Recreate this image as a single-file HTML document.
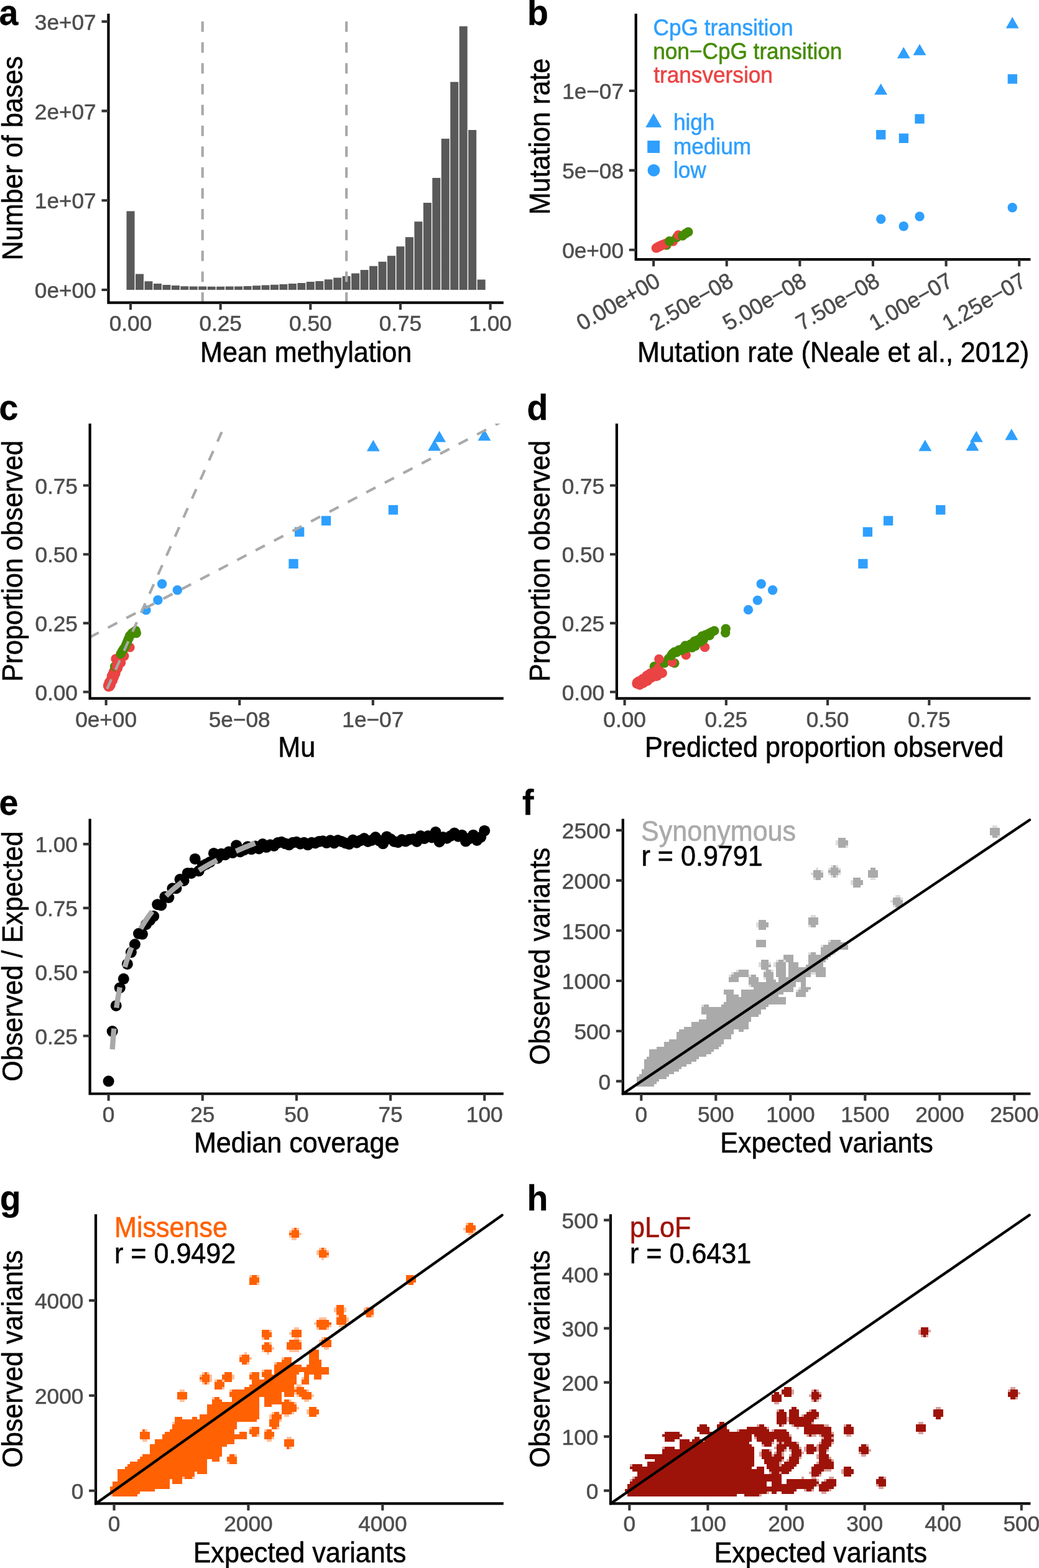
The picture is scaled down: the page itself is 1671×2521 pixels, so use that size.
<!DOCTYPE html>
<html lang="en"><head><meta charset="utf-8"><title>Figure: mutation rate and constraint model panels a-h</title>
<style>html,body{margin:0;padding:0;background:#fff}svg{display:block}text{font-family:'Liberation Sans', sans-serif}</style></head>
<body>
<svg width="1671" height="2521" viewBox="0 0 1671 2521">
<rect width="1671" height="2521" fill="#fff"/>
<g id="panel-a">
<text transform="translate(-1.5 39.6) scale(1 1.04)" font-size="55.5" font-weight="bold" fill="#000" stroke="#000" stroke-width="0.3">a</text>
<path d="M203.49 466h13.02V339.4h-13.02zM217.96 466h13.02V440.4h-13.02zM232.42 466h13.02V452.2h-13.02zM246.89 466h13.02V455.9h-13.02zM261.35 466h13.02V458h-13.02zM275.82 466h13.02V459.1h-13.02zM290.28 466h13.02V460.2h-13.02zM304.75 466h13.02V460.5h-13.02zM319.21 466h13.02V460.6h-13.02zM333.68 466h13.02V460.7h-13.02zM348.14 466h13.02V460.7h-13.02zM362.61 466h13.02V460.6h-13.02zM377.07 466h13.02V460.5h-13.02zM391.54 466h13.02V459.9h-13.02zM406 466h13.02V459.3h-13.02zM420.47 466h13.02V458.6h-13.02zM434.93 466h13.02V457.8h-13.02zM449.4 466h13.02V457h-13.02zM463.86 466h13.02V455.9h-13.02zM478.33 466h13.02V455.1h-13.02zM492.79 466h13.02V453h-13.02zM507.26 466h13.02V451.9h-13.02zM521.72 466h13.02V449.2h-13.02zM536.19 466h13.02V446.5h-13.02zM550.65 466h13.02V444.1h-13.02zM565.12 466h13.02V439.6h-13.02zM579.58 466h13.02V433.9h-13.02zM594.05 466h13.02V427.8h-13.02zM608.51 466h13.02V420.8h-13.02zM622.98 466h13.02V411.2h-13.02zM637.44 466h13.02V396.2h-13.02zM651.91 466h13.02V381.2h-13.02zM666.37 466h13.02V356.3h-13.02zM680.84 466h13.02V326h-13.02zM695.3 466h13.02V286.1h-13.02zM709.77 466h13.02V223.1h-13.02zM724.23 466h13.02V131.8h-13.02zM738.7 466h13.02V42.3h-13.02zM753.16 466h13.02V208.9h-13.02zM767.63 466h13.02V449.5h-13.02z" fill="#595959"/>
<path d="M325.72 486.7V22" stroke="#A9A9A9" stroke-width="4.2" stroke-dasharray="16.75 16.75" fill="none"/>
<path d="M557.16 486.7V22" stroke="#A9A9A9" stroke-width="4.2" stroke-dasharray="16.75 16.75" fill="none"/>
<path d="M174.4 22 V486.7 H809.8" fill="none" stroke="#000" stroke-width="4.2" stroke-linejoin="miter"/>
<path d="M174.4 466h-10.9M174.4 322.2h-10.9M174.4 178.4h-10.9M174.4 34.6h-10.9" stroke="#333333" stroke-width="4.1" fill="none"/>
<text transform="translate(154.7 479.2) scale(1 1.02)" font-size="35.2" text-anchor="end" fill="#4D4D4D" stroke="#4D4D4D" stroke-width="0.55">0e+00</text>
<text transform="translate(154.7 335.4) scale(1 1.02)" font-size="35.2" text-anchor="end" fill="#4D4D4D" stroke="#4D4D4D" stroke-width="0.55">1e+07</text>
<text transform="translate(154.7 191.6) scale(1 1.02)" font-size="35.2" text-anchor="end" fill="#4D4D4D" stroke="#4D4D4D" stroke-width="0.55">2e+07</text>
<text transform="translate(154.7 47.8) scale(1 1.02)" font-size="35.2" text-anchor="end" fill="#4D4D4D" stroke="#4D4D4D" stroke-width="0.55">3e+07</text>
<path d="M210 486.7v11.2M354.65 486.7v11.2M499.3 486.7v11.2M643.95 486.7v11.2M788.6 486.7v11.2" stroke="#333333" stroke-width="4.1" fill="none"/>
<text transform="translate(210 532.3) scale(1 1.02)" font-size="35.2" text-anchor="middle" fill="#4D4D4D" stroke="#4D4D4D" stroke-width="0.55">0.00</text>
<text transform="translate(354.65 532.3) scale(1 1.02)" font-size="35.2" text-anchor="middle" fill="#4D4D4D" stroke="#4D4D4D" stroke-width="0.55">0.25</text>
<text transform="translate(499.3 532.3) scale(1 1.02)" font-size="35.2" text-anchor="middle" fill="#4D4D4D" stroke="#4D4D4D" stroke-width="0.55">0.50</text>
<text transform="translate(643.95 532.3) scale(1 1.02)" font-size="35.2" text-anchor="middle" fill="#4D4D4D" stroke="#4D4D4D" stroke-width="0.55">0.75</text>
<text transform="translate(788.6 532.3) scale(1 1.02)" font-size="35.2" text-anchor="middle" fill="#4D4D4D" stroke="#4D4D4D" stroke-width="0.55">1.00</text>
<text transform="translate(492.1 581.5) scale(1 1.06)" font-size="43.1" text-anchor="middle" fill="#000" stroke="#000" stroke-width="0.55">Mean methylation</text>
<text transform="translate(36.2 254.35) rotate(-90) scale(1 1.06)" font-size="43.1" text-anchor="middle" fill="#000" stroke="#000" stroke-width="0.55">Number of bases</text>
</g>
<g id="panel-b">
<text transform="translate(847.9 39.6) scale(1 1.04)" font-size="55.5" font-weight="bold" fill="#000" stroke="#000" stroke-width="0.3">b</text>
<circle cx="1055.3" cy="398.9" r="7.7" fill="#EA4444"/>
<circle cx="1056.6" cy="398.3" r="7.7" fill="#EA4444"/>
<circle cx="1057.5" cy="397.7" r="7.7" fill="#EA4444"/>
<circle cx="1058.6" cy="397" r="7.7" fill="#EA4444"/>
<circle cx="1059.5" cy="396.7" r="7.7" fill="#EA4444"/>
<circle cx="1060.6" cy="396" r="7.7" fill="#EA4444"/>
<circle cx="1061.5" cy="395.6" r="7.7" fill="#EA4444"/>
<circle cx="1062.6" cy="395" r="7.7" fill="#EA4444"/>
<circle cx="1063.5" cy="394.6" r="7.7" fill="#EA4444"/>
<circle cx="1064.6" cy="394.1" r="7.7" fill="#EA4444"/>
<circle cx="1065.5" cy="393.8" r="7.7" fill="#EA4444"/>
<circle cx="1072" cy="394" r="7.7" fill="#458B00"/>
<circle cx="1067" cy="393.2" r="7.7" fill="#EA4444"/>
<circle cx="1068.6" cy="392.5" r="7.7" fill="#EA4444"/>
<circle cx="1071" cy="391.5" r="7.7" fill="#EA4444"/>
<circle cx="1082.5" cy="388" r="7.7" fill="#EA4444"/>
<circle cx="1076.7" cy="387.7" r="7.7" fill="#458B00"/>
<circle cx="1088.5" cy="381.5" r="7.7" fill="#458B00"/>
<circle cx="1091" cy="378" r="7.7" fill="#EA4444"/>
<circle cx="1097.7" cy="379" r="7.7" fill="#458B00"/>
<circle cx="1102.8" cy="375.4" r="7.7" fill="#458B00"/>
<circle cx="1106.8" cy="372.9" r="7.7" fill="#458B00"/>
<g fill="#2E9FFE">
<circle cx="1416.8" cy="352.2" r="7.7"/>
<circle cx="1453.3" cy="363.8" r="7.7"/>
<circle cx="1479" cy="348" r="7.7"/>
<circle cx="1628.2" cy="333.8" r="7.7"/>
<rect x="1409.05" y="208.95" width="15.3" height="15.3"/>
<rect x="1445.75" y="214.65" width="15.3" height="15.3"/>
<rect x="1471.35" y="183.45" width="15.3" height="15.3"/>
<rect x="1620.65" y="119.35" width="15.3" height="15.3"/>
<path d="M1416.6 134.23L1427.05 152.33H1406.15Z"/>
<path d="M1453.3 75.53L1463.75 93.63H1442.85Z"/>
<path d="M1479 70.73L1489.45 88.83H1468.55Z"/>
<path d="M1628.2 27.33L1638.65 45.43H1617.75Z"/>
<path d="M1051.2 182.25L1064.15 204.68H1038.25Z"/>
<rect x="1041.2" y="226.1" width="19.8" height="19.8"/>
<circle cx="1051.4" cy="273.8" r="9.9"/>
</g>
<text transform="translate(1050.6 56.8) scale(1 1.06)" font-size="35.2" fill="#2E9FFE" stroke="#2E9FFE" stroke-width="0.55">CpG transition</text>
<text transform="translate(1050.2 94.8) scale(1 1.06)" font-size="35.2" fill="#458B00" stroke="#458B00" stroke-width="0.55">non−CpG transition</text>
<text transform="translate(1051.2 133.1) scale(1 1.06)" font-size="35.2" fill="#EA4444" stroke="#EA4444" stroke-width="0.55">transversion</text>
<text transform="translate(1082.9 209) scale(1 1.06)" font-size="35.2" fill="#2E9FFE" stroke="#2E9FFE" stroke-width="0.55">high</text>
<text transform="translate(1082.9 247.8) scale(1 1.06)" font-size="35.2" fill="#2E9FFE" stroke="#2E9FFE" stroke-width="0.55">medium</text>
<text transform="translate(1082.9 286.1) scale(1 1.06)" font-size="35.2" fill="#2E9FFE" stroke="#2E9FFE" stroke-width="0.55">low</text>
<path d="M1022.7 22 V417.1 H1657.4" fill="none" stroke="#000" stroke-width="4.2" stroke-linejoin="miter"/>
<path d="M1022.7 401.8h-10.9M1022.7 273.9h-10.9M1022.7 146h-10.9" stroke="#333333" stroke-width="4.1" fill="none"/>
<text transform="translate(1003 415) scale(1 1.02)" font-size="35.2" text-anchor="end" fill="#4D4D4D" stroke="#4D4D4D" stroke-width="0.55">0e+00</text>
<text transform="translate(1003 287.1) scale(1 1.02)" font-size="35.2" text-anchor="end" fill="#4D4D4D" stroke="#4D4D4D" stroke-width="0.55">5e−08</text>
<text transform="translate(1003 159.2) scale(1 1.02)" font-size="35.2" text-anchor="end" fill="#4D4D4D" stroke="#4D4D4D" stroke-width="0.55">1e−07</text>
<path d="M1051.1 417.1v11.2M1168.72 417.1v11.2M1286.34 417.1v11.2M1403.96 417.1v11.2M1521.58 417.1v11.2M1639.2 417.1v11.2" stroke="#333333" stroke-width="4.1" fill="none"/>
<text transform="translate(1064.3 458.7) rotate(-30) scale(1 1.02)" font-size="35.2" text-anchor="end" fill="#4D4D4D" stroke="#4D4D4D" stroke-width="0.55">0.00e+00</text>
<text transform="translate(1181.92 458.7) rotate(-30) scale(1 1.02)" font-size="35.2" text-anchor="end" fill="#4D4D4D" stroke="#4D4D4D" stroke-width="0.55">2.50e−08</text>
<text transform="translate(1299.54 458.7) rotate(-30) scale(1 1.02)" font-size="35.2" text-anchor="end" fill="#4D4D4D" stroke="#4D4D4D" stroke-width="0.55">5.00e−08</text>
<text transform="translate(1417.16 458.7) rotate(-30) scale(1 1.02)" font-size="35.2" text-anchor="end" fill="#4D4D4D" stroke="#4D4D4D" stroke-width="0.55">7.50e−08</text>
<text transform="translate(1534.78 458.7) rotate(-30) scale(1 1.02)" font-size="35.2" text-anchor="end" fill="#4D4D4D" stroke="#4D4D4D" stroke-width="0.55">1.00e−07</text>
<text transform="translate(1652.4 458.7) rotate(-30) scale(1 1.02)" font-size="35.2" text-anchor="end" fill="#4D4D4D" stroke="#4D4D4D" stroke-width="0.55">1.25e−07</text>
<text transform="translate(1340.05 581.5) scale(1 1.06)" font-size="43.1" text-anchor="middle" fill="#000" stroke="#000" stroke-width="0.55">Mutation rate (Neale et al., 2012)</text>
<text transform="translate(884.2 219.55) rotate(-90) scale(1 1.06)" font-size="43.1" text-anchor="middle" fill="#000" stroke="#000" stroke-width="0.55">Mutation rate</text>
</g>
<g id="panel-c">
<text transform="translate(-1.5 674.9) scale(1 1.04)" font-size="55.5" font-weight="bold" fill="#000" stroke="#000" stroke-width="0.3">c</text>
<circle cx="174.31" cy="1104.21" r="7.7" fill="#EA4444"/>
<circle cx="176.5" cy="1103.69" r="7.7" fill="#EA4444"/>
<circle cx="174.86" cy="1103.56" r="7.7" fill="#EA4444"/>
<circle cx="175.81" cy="1103.04" r="7.7" fill="#EA4444"/>
<circle cx="173.65" cy="1102.91" r="7.7" fill="#EA4444"/>
<circle cx="173.93" cy="1101.96" r="7.7" fill="#EA4444"/>
<circle cx="173.7" cy="1101.37" r="7.7" fill="#EA4444"/>
<circle cx="178.34" cy="1101.09" r="7.7" fill="#EA4444"/>
<circle cx="177.19" cy="1099.65" r="7.7" fill="#EA4444"/>
<circle cx="176.82" cy="1099.6" r="7.7" fill="#EA4444"/>
<circle cx="175.3" cy="1097.61" r="7.7" fill="#EA4444"/>
<circle cx="177.21" cy="1097.04" r="7.7" fill="#EA4444"/>
<circle cx="176.03" cy="1096.77" r="7.7" fill="#EA4444"/>
<circle cx="177.73" cy="1096.72" r="7.7" fill="#EA4444"/>
<circle cx="175.63" cy="1096.57" r="7.7" fill="#EA4444"/>
<circle cx="178.38" cy="1095.52" r="7.7" fill="#EA4444"/>
<circle cx="178.61" cy="1094.83" r="7.7" fill="#EA4444"/>
<circle cx="181.44" cy="1094.07" r="7.7" fill="#EA4444"/>
<circle cx="178.75" cy="1093.19" r="7.7" fill="#EA4444"/>
<circle cx="181.08" cy="1092.63" r="7.7" fill="#EA4444"/>
<circle cx="179.13" cy="1090.74" r="7.7" fill="#EA4444"/>
<circle cx="179.35" cy="1089.58" r="7.7" fill="#EA4444"/>
<circle cx="181.78" cy="1089.53" r="7.7" fill="#EA4444"/>
<circle cx="183.32" cy="1088.91" r="7.7" fill="#EA4444"/>
<circle cx="182.48" cy="1088.68" r="7.7" fill="#EA4444"/>
<circle cx="179.5" cy="1086.61" r="7.7" fill="#EA4444"/>
<circle cx="183.83" cy="1086.36" r="7.7" fill="#EA4444"/>
<circle cx="184.5" cy="1085.34" r="7.7" fill="#EA4444"/>
<circle cx="180.9" cy="1085.02" r="7.7" fill="#EA4444"/>
<circle cx="184.35" cy="1083.32" r="7.7" fill="#EA4444"/>
<circle cx="185.91" cy="1082.69" r="7.7" fill="#EA4444"/>
<circle cx="181.71" cy="1082.59" r="7.7" fill="#EA4444"/>
<circle cx="182.6" cy="1080.62" r="7.7" fill="#EA4444"/>
<circle cx="182.91" cy="1079.3" r="7.7" fill="#EA4444"/>
<circle cx="186.33" cy="1078.66" r="7.7" fill="#EA4444"/>
<circle cx="185.68" cy="1078.37" r="7.7" fill="#EA4444"/>
<circle cx="184.46" cy="1078.11" r="7.7" fill="#EA4444"/>
<circle cx="184.59" cy="1076.98" r="7.7" fill="#EA4444"/>
<circle cx="184.93" cy="1075.54" r="7.7" fill="#EA4444"/>
<circle cx="189.45" cy="1074.54" r="7.7" fill="#EA4444"/>
<circle cx="185.75" cy="1074.26" r="7.7" fill="#EA4444"/>
<circle cx="186.95" cy="1073.78" r="7.7" fill="#EA4444"/>
<circle cx="186.95" cy="1071.7" r="7.7" fill="#EA4444"/>
<circle cx="184.56" cy="1071.64" r="7.7" fill="#458B00"/>
<circle cx="190.16" cy="1071.31" r="7.7" fill="#EA4444"/>
<circle cx="187.29" cy="1071.15" r="7.7" fill="#EA4444"/>
<circle cx="188.19" cy="1068.5" r="7.7" fill="#EA4444"/>
<circle cx="186" cy="1059.29" r="7.7" fill="#EA4444"/>
<circle cx="194.61" cy="1065.61" r="7.7" fill="#EA4444"/>
<circle cx="199.78" cy="1054.7" r="7.7" fill="#EA4444"/>
<circle cx="208.96" cy="1040.92" r="7.7" fill="#EA4444"/>
<circle cx="194.04" cy="1051.26" r="7.7" fill="#458B00"/>
<circle cx="196.33" cy="1047.24" r="7.7" fill="#458B00"/>
<circle cx="198.63" cy="1043.79" r="7.7" fill="#458B00"/>
<circle cx="200.92" cy="1040.35" r="7.7" fill="#458B00"/>
<circle cx="202.65" cy="1036.33" r="7.7" fill="#458B00"/>
<circle cx="204.37" cy="1032.89" r="7.7" fill="#458B00"/>
<circle cx="205.52" cy="1029.44" r="7.7" fill="#458B00"/>
<circle cx="207.24" cy="1026" r="7.7" fill="#458B00"/>
<circle cx="208.39" cy="1022.55" r="7.7" fill="#458B00"/>
<circle cx="210.68" cy="1020.26" r="7.7" fill="#458B00"/>
<circle cx="212.41" cy="1017.96" r="7.7" fill="#458B00"/>
<circle cx="215.28" cy="1016.24" r="7.7" fill="#458B00"/>
<circle cx="219.29" cy="1017.96" r="7.7" fill="#458B00"/>
<circle cx="218.15" cy="1013.94" r="7.7" fill="#458B00"/>
<g fill="#2E9FFE">
<circle cx="260.6" cy="938.8" r="7.7"/>
<circle cx="253.9" cy="964.8" r="7.7"/>
<circle cx="285.3" cy="948.8" r="7.7"/>
<circle cx="234.9" cy="980.9" r="7.7"/>
<rect x="464.35" y="898.75" width="15.3" height="15.3"/>
<rect x="473.95" y="847.55" width="15.3" height="15.3"/>
<rect x="516.85" y="829.55" width="15.3" height="15.3"/>
<rect x="624.75" y="812.15" width="15.3" height="15.3"/>
<path d="M600.3 707.33L610.75 725.43H589.85Z"/>
<path d="M706.6 692.63L717.05 710.73H696.15Z"/>
<path d="M698.6 706.73L709.05 724.83H688.15Z"/>
<path d="M779 690.33L789.45 708.43H768.55Z"/>
</g>
<clipPath id="clipc"><rect x="144.6" y="681.1" width="665.2" height="441.8"/></clipPath>
<g clip-path="url(#clipc)" stroke="#A9A9A9" stroke-width="4.2" stroke-dasharray="16.75 16.75" fill="none">
<path d="M143.98 1024.78L829.8 665.76"/>
<path d="M172.2 1107.5L372.2 659.7"/>
</g>
<path d="M144.6 681.1 V1122.9 H809.8" fill="none" stroke="#000" stroke-width="4.2" stroke-linejoin="miter"/>
<path d="M144.6 1112.5h-10.9M144.6 1001.85h-10.9M144.6 891.2h-10.9M144.6 780.55h-10.9" stroke="#333333" stroke-width="4.1" fill="none"/>
<text transform="translate(124.9 1125.7) scale(1 1.02)" font-size="35.2" text-anchor="end" fill="#4D4D4D" stroke="#4D4D4D" stroke-width="0.55">0.00</text>
<text transform="translate(124.9 1015.05) scale(1 1.02)" font-size="35.2" text-anchor="end" fill="#4D4D4D" stroke="#4D4D4D" stroke-width="0.55">0.25</text>
<text transform="translate(124.9 904.4) scale(1 1.02)" font-size="35.2" text-anchor="end" fill="#4D4D4D" stroke="#4D4D4D" stroke-width="0.55">0.50</text>
<text transform="translate(124.9 793.75) scale(1 1.02)" font-size="35.2" text-anchor="end" fill="#4D4D4D" stroke="#4D4D4D" stroke-width="0.55">0.75</text>
<path d="M170.6 1122.9v11.2M385.2 1122.9v11.2M599.8 1122.9v11.2" stroke="#333333" stroke-width="4.1" fill="none"/>
<text transform="translate(170.6 1168.5) scale(1 1.02)" font-size="35.2" text-anchor="middle" fill="#4D4D4D" stroke="#4D4D4D" stroke-width="0.55">0e+00</text>
<text transform="translate(385.2 1168.5) scale(1 1.02)" font-size="35.2" text-anchor="middle" fill="#4D4D4D" stroke="#4D4D4D" stroke-width="0.55">5e−08</text>
<text transform="translate(599.8 1168.5) scale(1 1.02)" font-size="35.2" text-anchor="middle" fill="#4D4D4D" stroke="#4D4D4D" stroke-width="0.55">1e−07</text>
<text transform="translate(477.2 1217.4) scale(1 1.06)" font-size="43.1" text-anchor="middle" fill="#000" stroke="#000" stroke-width="0.55">Mu</text>
<text transform="translate(36.2 902) rotate(-90) scale(1 1.06)" font-size="43.1" text-anchor="middle" fill="#000" stroke="#000" stroke-width="0.55">Proportion observed</text>
</g>
<g id="panel-d">
<text transform="translate(847.6 674.9) scale(1 1.04)" font-size="55.5" font-weight="bold" fill="#000" stroke="#000" stroke-width="0.3">d</text>
<circle cx="1052.28" cy="1071.56" r="7.7" fill="#458B00"/>
<circle cx="1024.26" cy="1099.63" r="7.7" fill="#EA4444"/>
<circle cx="1024.23" cy="1098.78" r="7.7" fill="#EA4444"/>
<circle cx="1024.48" cy="1098.22" r="7.7" fill="#EA4444"/>
<circle cx="1024.46" cy="1097.12" r="7.7" fill="#EA4444"/>
<circle cx="1025.58" cy="1097.93" r="7.7" fill="#EA4444"/>
<circle cx="1025.49" cy="1096.59" r="7.7" fill="#EA4444"/>
<circle cx="1028.92" cy="1101.3" r="7.7" fill="#EA4444"/>
<circle cx="1028.02" cy="1098.52" r="7.7" fill="#EA4444"/>
<circle cx="1026.96" cy="1095.44" r="7.7" fill="#EA4444"/>
<circle cx="1028.5" cy="1096.8" r="7.7" fill="#EA4444"/>
<circle cx="1028.19" cy="1094.97" r="7.7" fill="#EA4444"/>
<circle cx="1031.48" cy="1099.3" r="7.7" fill="#EA4444"/>
<circle cx="1030.82" cy="1096.83" r="7.7" fill="#EA4444"/>
<circle cx="1032.2" cy="1097.83" r="7.7" fill="#EA4444"/>
<circle cx="1031.74" cy="1095.66" r="7.7" fill="#EA4444"/>
<circle cx="1032.22" cy="1095.11" r="7.7" fill="#EA4444"/>
<circle cx="1034.88" cy="1098.28" r="7.7" fill="#EA4444"/>
<circle cx="1034.76" cy="1096.65" r="7.7" fill="#EA4444"/>
<circle cx="1035.15" cy="1095.9" r="7.7" fill="#EA4444"/>
<circle cx="1033.37" cy="1091.39" r="7.7" fill="#EA4444"/>
<circle cx="1034.55" cy="1091.97" r="7.7" fill="#EA4444"/>
<circle cx="1037.52" cy="1095.61" r="7.7" fill="#EA4444"/>
<circle cx="1035.68" cy="1090.96" r="7.7" fill="#EA4444"/>
<circle cx="1038.91" cy="1095.04" r="7.7" fill="#EA4444"/>
<circle cx="1037.65" cy="1091.39" r="7.7" fill="#EA4444"/>
<circle cx="1040.28" cy="1094.4" r="7.7" fill="#EA4444"/>
<circle cx="1041.46" cy="1094.92" r="7.7" fill="#EA4444"/>
<circle cx="1038.55" cy="1088.38" r="7.7" fill="#EA4444"/>
<circle cx="1041.95" cy="1092.71" r="7.7" fill="#EA4444"/>
<circle cx="1042.6" cy="1092.29" r="7.7" fill="#EA4444"/>
<circle cx="1040.01" cy="1086.29" r="7.7" fill="#EA4444"/>
<circle cx="1041.13" cy="1086.66" r="7.7" fill="#EA4444"/>
<circle cx="1044.33" cy="1090.6" r="7.7" fill="#EA4444"/>
<circle cx="1042.06" cy="1085.12" r="7.7" fill="#EA4444"/>
<circle cx="1044.59" cy="1087.91" r="7.7" fill="#EA4444"/>
<circle cx="1044.65" cy="1086.42" r="7.7" fill="#EA4444"/>
<circle cx="1047.48" cy="1089.69" r="7.7" fill="#EA4444"/>
<circle cx="1044.8" cy="1083.5" r="7.7" fill="#EA4444"/>
<circle cx="1046.63" cy="1085.04" r="7.7" fill="#EA4444"/>
<circle cx="1046.03" cy="1082.39" r="7.7" fill="#EA4444"/>
<circle cx="1047.05" cy="1082.53" r="7.7" fill="#EA4444"/>
<circle cx="1050.56" cy="1086.96" r="7.7" fill="#EA4444"/>
<circle cx="1050.98" cy="1086.04" r="7.7" fill="#EA4444"/>
<circle cx="1052.64" cy="1087.26" r="7.7" fill="#EA4444"/>
<circle cx="1053.46" cy="1087.03" r="7.7" fill="#EA4444"/>
<circle cx="1054.58" cy="1087.32" r="7.7" fill="#EA4444"/>
<circle cx="1054.13" cy="1084.9" r="7.7" fill="#EA4444"/>
<circle cx="1053.33" cy="1081.86" r="7.7" fill="#EA4444"/>
<circle cx="1057.1" cy="1086.69" r="7.7" fill="#EA4444"/>
<circle cx="1054.37" cy="1080.32" r="7.7" fill="#EA4444"/>
<circle cx="1056.85" cy="1082.91" r="7.7" fill="#EA4444"/>
<circle cx="1057.73" cy="1082.75" r="7.7" fill="#EA4444"/>
<circle cx="1055.77" cy="1077.7" r="7.7" fill="#EA4444"/>
<circle cx="1058.28" cy="1080.34" r="7.7" fill="#EA4444"/>
<circle cx="1059.9" cy="1081.43" r="7.7" fill="#EA4444"/>
<circle cx="1059.74" cy="1079.46" r="7.7" fill="#EA4444"/>
<circle cx="1059.25" cy="1076.91" r="7.7" fill="#EA4444"/>
<circle cx="1063.56" cy="1082.63" r="7.7" fill="#EA4444"/>
<circle cx="1059.19" cy="1073.4" r="7.7" fill="#EA4444"/>
<circle cx="1065.27" cy="1082.15" r="7.7" fill="#EA4444"/>
<circle cx="1068.55" cy="1066.14" r="7.7" fill="#458B00"/>
<circle cx="1084.81" cy="1066.14" r="7.7" fill="#458B00"/>
<circle cx="1075.05" cy="1059.09" r="7.7" fill="#458B00"/>
<circle cx="1059.87" cy="1059.63" r="7.7" fill="#EA4444"/>
<circle cx="1081.01" cy="1064.51" r="7.7" fill="#EA4444"/>
<circle cx="1103.24" cy="1053.13" r="7.7" fill="#EA4444"/>
<circle cx="1133.6" cy="1040.66" r="7.7" fill="#EA4444"/>
<circle cx="1081.56" cy="1050.96" r="7.7" fill="#458B00"/>
<circle cx="1079.39" cy="1054.21" r="7.7" fill="#458B00"/>
<circle cx="1084.81" cy="1048.25" r="7.7" fill="#458B00"/>
<circle cx="1088.06" cy="1048.79" r="7.7" fill="#458B00"/>
<circle cx="1091.86" cy="1044.99" r="7.7" fill="#458B00"/>
<circle cx="1095.65" cy="1045.54" r="7.7" fill="#458B00"/>
<circle cx="1099.45" cy="1041.74" r="7.7" fill="#458B00"/>
<circle cx="1102.16" cy="1037.95" r="7.7" fill="#458B00"/>
<circle cx="1103.24" cy="1042.28" r="7.7" fill="#458B00"/>
<circle cx="1107.03" cy="1039.03" r="7.7" fill="#458B00"/>
<circle cx="1110.83" cy="1035.78" r="7.7" fill="#458B00"/>
<circle cx="1113" cy="1041.2" r="7.7" fill="#458B00"/>
<circle cx="1118.42" cy="1038.49" r="7.7" fill="#458B00"/>
<circle cx="1116.79" cy="1030.9" r="7.7" fill="#458B00"/>
<circle cx="1120.59" cy="1029.82" r="7.7" fill="#458B00"/>
<circle cx="1123.84" cy="1028.19" r="7.7" fill="#458B00"/>
<circle cx="1127.09" cy="1031.44" r="7.7" fill="#458B00"/>
<circle cx="1129.26" cy="1022.77" r="7.7" fill="#458B00"/>
<circle cx="1131.43" cy="1028.19" r="7.7" fill="#458B00"/>
<circle cx="1134.68" cy="1020.6" r="7.7" fill="#458B00"/>
<circle cx="1140.1" cy="1018.43" r="7.7" fill="#458B00"/>
<circle cx="1141.19" cy="1021.68" r="7.7" fill="#458B00"/>
<circle cx="1144.44" cy="1016.26" r="7.7" fill="#458B00"/>
<circle cx="1148.78" cy="1014.09" r="7.7" fill="#458B00"/>
<circle cx="1166.67" cy="1017.35" r="7.7" fill="#458B00"/>
<circle cx="1167.21" cy="1010.84" r="7.7" fill="#458B00"/>
<g fill="#2E9FFE">
<circle cx="1203.5" cy="980.4" r="7.7"/>
<circle cx="1218.3" cy="965.1" r="7.7"/>
<circle cx="1224.2" cy="938.8" r="7.7"/>
<circle cx="1242.6" cy="948.8" r="7.7"/>
<rect x="1380.25" y="898.75" width="15.3" height="15.3"/>
<rect x="1387.75" y="847.55" width="15.3" height="15.3"/>
<rect x="1420.95" y="829.55" width="15.3" height="15.3"/>
<rect x="1505.05" y="812.15" width="15.3" height="15.3"/>
<path d="M1487.8 707.03L1498.25 725.13H1477.35Z"/>
<path d="M1570.3 692.63L1580.75 710.73H1559.85Z"/>
<path d="M1563.9 706.73L1574.35 724.83H1553.45Z"/>
<path d="M1626.8 689.33L1637.25 707.43H1616.35Z"/>
</g>
<path d="M991.9 681.1 V1122.9 H1657.4" fill="none" stroke="#000" stroke-width="4.2" stroke-linejoin="miter"/>
<path d="M991.9 1112.5h-10.9M991.9 1001.85h-10.9M991.9 891.2h-10.9M991.9 780.55h-10.9" stroke="#333333" stroke-width="4.1" fill="none"/>
<text transform="translate(972.2 1125.7) scale(1 1.02)" font-size="35.2" text-anchor="end" fill="#4D4D4D" stroke="#4D4D4D" stroke-width="0.55">0.00</text>
<text transform="translate(972.2 1015.05) scale(1 1.02)" font-size="35.2" text-anchor="end" fill="#4D4D4D" stroke="#4D4D4D" stroke-width="0.55">0.25</text>
<text transform="translate(972.2 904.4) scale(1 1.02)" font-size="35.2" text-anchor="end" fill="#4D4D4D" stroke="#4D4D4D" stroke-width="0.55">0.50</text>
<text transform="translate(972.2 793.75) scale(1 1.02)" font-size="35.2" text-anchor="end" fill="#4D4D4D" stroke="#4D4D4D" stroke-width="0.55">0.75</text>
<path d="M1004.6 1122.9v11.2M1167.85 1122.9v11.2M1331.1 1122.9v11.2M1494.35 1122.9v11.2" stroke="#333333" stroke-width="4.1" fill="none"/>
<text transform="translate(1004.6 1168.5) scale(1 1.02)" font-size="35.2" text-anchor="middle" fill="#4D4D4D" stroke="#4D4D4D" stroke-width="0.55">0.00</text>
<text transform="translate(1167.85 1168.5) scale(1 1.02)" font-size="35.2" text-anchor="middle" fill="#4D4D4D" stroke="#4D4D4D" stroke-width="0.55">0.25</text>
<text transform="translate(1331.1 1168.5) scale(1 1.02)" font-size="35.2" text-anchor="middle" fill="#4D4D4D" stroke="#4D4D4D" stroke-width="0.55">0.50</text>
<text transform="translate(1494.35 1168.5) scale(1 1.02)" font-size="35.2" text-anchor="middle" fill="#4D4D4D" stroke="#4D4D4D" stroke-width="0.55">0.75</text>
<text transform="translate(1325.65 1217.4) scale(1 1.06)" font-size="43.1" text-anchor="middle" fill="#000" stroke="#000" stroke-width="0.55">Predicted proportion observed</text>
<text transform="translate(884.2 902) rotate(-90) scale(1 1.06)" font-size="43.1" text-anchor="middle" fill="#000" stroke="#000" stroke-width="0.55">Proportion observed</text>
</g>
<g id="panel-e">
<text transform="translate(-1.5 1310.3) scale(1 1.04)" font-size="55.5" font-weight="bold" fill="#000" stroke="#000" stroke-width="0.3">e</text>
<g fill="#000">
<circle cx="174.6" cy="1738.28" r="9"/>
<circle cx="180.65" cy="1658.1" r="9"/>
<circle cx="186.69" cy="1616.98" r="9"/>
<circle cx="192.74" cy="1588.19" r="9"/>
<circle cx="198.78" cy="1573.8" r="9"/>
<circle cx="204.83" cy="1549.95" r="9"/>
<circle cx="210.88" cy="1531.04" r="9"/>
<circle cx="216.92" cy="1518.29" r="9"/>
<circle cx="222.97" cy="1501.02" r="9"/>
<circle cx="229.01" cy="1501.84" r="9"/>
<circle cx="235.06" cy="1486.22" r="9"/>
<circle cx="241.11" cy="1479.64" r="9"/>
<circle cx="247.15" cy="1473.06" r="9"/>
<circle cx="253.2" cy="1454.14" r="9"/>
<circle cx="259.24" cy="1455.38" r="9"/>
<circle cx="265.29" cy="1441.81" r="9"/>
<circle cx="271.34" cy="1443.04" r="9"/>
<circle cx="277.38" cy="1428.24" r="9"/>
<circle cx="283.43" cy="1428.24" r="9"/>
<circle cx="289.47" cy="1413.85" r="9"/>
<circle cx="295.52" cy="1415.9" r="9"/>
<circle cx="301.57" cy="1403.98" r="9"/>
<circle cx="307.61" cy="1403.98" r="9"/>
<circle cx="313.66" cy="1380.95" r="9"/>
<circle cx="319.7" cy="1400.28" r="9"/>
<circle cx="325.75" cy="1392.05" r="9"/>
<circle cx="331.8" cy="1389.17" r="9"/>
<circle cx="337.84" cy="1385.88" r="9"/>
<circle cx="343.89" cy="1371.9" r="9"/>
<circle cx="349.93" cy="1379.72" r="9"/>
<circle cx="355.98" cy="1372.73" r="9"/>
<circle cx="362.03" cy="1374.37" r="9"/>
<circle cx="368.07" cy="1369.44" r="9"/>
<circle cx="374.12" cy="1371.08" r="9"/>
<circle cx="380.16" cy="1359.16" r="9"/>
<circle cx="386.21" cy="1369.44" r="9"/>
<circle cx="392.26" cy="1366.56" r="9"/>
<circle cx="398.3" cy="1361.21" r="9"/>
<circle cx="404.35" cy="1365.32" r="9"/>
<circle cx="410.39" cy="1360.39" r="9"/>
<circle cx="416.44" cy="1364.5" r="9"/>
<circle cx="422.49" cy="1357.1" r="9"/>
<circle cx="428.53" cy="1362.03" r="9"/>
<circle cx="434.58" cy="1358.33" r="9"/>
<circle cx="440.62" cy="1359.98" r="9"/>
<circle cx="446.67" cy="1355.04" r="9"/>
<circle cx="452.72" cy="1353.81" r="9"/>
<circle cx="458.76" cy="1356.28" r="9"/>
<circle cx="464.81" cy="1358.33" r="9"/>
<circle cx="470.85" cy="1354.63" r="9"/>
<circle cx="476.9" cy="1353.81" r="9"/>
<circle cx="482.95" cy="1356.69" r="9"/>
<circle cx="488.99" cy="1354.63" r="9"/>
<circle cx="495.04" cy="1358.33" r="9"/>
<circle cx="501.08" cy="1354.63" r="9"/>
<circle cx="507.13" cy="1355.46" r="9"/>
<circle cx="513.18" cy="1352.99" r="9"/>
<circle cx="519.22" cy="1352.17" r="9"/>
<circle cx="525.27" cy="1355.04" r="9"/>
<circle cx="531.31" cy="1351.34" r="9"/>
<circle cx="537.36" cy="1355.46" r="9"/>
<circle cx="543.41" cy="1350.93" r="9"/>
<circle cx="549.45" cy="1352.99" r="9"/>
<circle cx="555.5" cy="1355.46" r="9"/>
<circle cx="561.54" cy="1357.1" r="9"/>
<circle cx="567.59" cy="1350.52" r="9"/>
<circle cx="573.64" cy="1354.63" r="9"/>
<circle cx="579.68" cy="1351.34" r="9"/>
<circle cx="585.73" cy="1348.05" r="9"/>
<circle cx="591.77" cy="1352.99" r="9"/>
<circle cx="597.82" cy="1350.93" r="9"/>
<circle cx="603.87" cy="1346" r="9"/>
<circle cx="609.91" cy="1351.75" r="9"/>
<circle cx="615.96" cy="1356.28" r="9"/>
<circle cx="622" cy="1345.18" r="9"/>
<circle cx="628.05" cy="1348.88" r="9"/>
<circle cx="634.1" cy="1352.99" r="9"/>
<circle cx="640.14" cy="1354.22" r="9"/>
<circle cx="646.19" cy="1350.11" r="9"/>
<circle cx="652.23" cy="1352.58" r="9"/>
<circle cx="658.28" cy="1349.7" r="9"/>
<circle cx="664.33" cy="1348.88" r="9"/>
<circle cx="670.37" cy="1352.99" r="9"/>
<circle cx="676.42" cy="1343.94" r="9"/>
<circle cx="682.46" cy="1348.05" r="9"/>
<circle cx="688.51" cy="1343.94" r="9"/>
<circle cx="694.56" cy="1346.41" r="9"/>
<circle cx="700.6" cy="1337.77" r="9"/>
<circle cx="706.65" cy="1353.4" r="9"/>
<circle cx="712.69" cy="1346" r="9"/>
<circle cx="718.74" cy="1347.64" r="9"/>
<circle cx="724.79" cy="1343.94" r="9"/>
<circle cx="730.83" cy="1339.42" r="9"/>
<circle cx="736.88" cy="1344.76" r="9"/>
<circle cx="742.92" cy="1342.71" r="9"/>
<circle cx="748.97" cy="1352.58" r="9"/>
<circle cx="755.02" cy="1348.05" r="9"/>
<circle cx="761.06" cy="1342.71" r="9"/>
<circle cx="767.11" cy="1350.93" r="9"/>
<circle cx="773.15" cy="1346" r="9"/>
<circle cx="779.2" cy="1335.72" r="9"/>
</g>
<path d="M180.65 1687.09L181.8 1671.33L182.95 1657.92L184.1 1646.24L185.25 1635.89L186.4 1626.61L187.55 1618.2L188.7 1610.5L189.85 1603.4L191 1596.82L192.15 1590.69L193.3 1584.95L194.45 1579.55L195.6 1574.45L196.75 1569.63L197.9 1565.05L199.05 1560.69L200.21 1556.53L201.36 1552.55L202.51 1548.75L203.66 1545.09L204.81 1541.58L205.96 1538.2L207.11 1534.94L208.26 1531.79L209.41 1528.75L210.56 1525.81L211.71 1522.96L212.86 1520.2L214.01 1517.52L215.16 1514.92L216.31 1512.39L217.46 1509.93L218.61 1507.53L219.76 1505.2L220.92 1502.92L222.07 1500.7L223.22 1498.54L224.37 1496.42L225.52 1494.35L226.67 1492.33L227.82 1490.35L228.97 1488.42L230.12 1486.53L231.27 1484.67L232.42 1482.85L233.57 1481.07L234.72 1479.32L235.87 1477.61L237.02 1475.92L238.17 1474.27L239.32 1472.65L240.47 1471.06L241.63 1469.49L242.78 1467.95L243.93 1466.44L245.08 1464.95L246.23 1463.48L247.38 1462.04L248.53 1460.62L249.68 1459.23L250.83 1457.85L251.98 1456.5L253.13 1455.16L254.28 1453.85L255.43 1452.55L256.58 1451.27L257.73 1450.01L258.88 1448.77L260.03 1447.54L261.18 1446.33L262.34 1445.14L263.49 1443.96L264.64 1442.79L265.79 1441.65L266.94 1440.51L268.09 1439.39L269.24 1438.29L270.39 1437.19L271.54 1436.11L272.69 1435.05L273.84 1433.99L274.99 1432.95L276.14 1431.92L277.29 1430.9L278.44 1429.89L279.59 1428.89L280.74 1427.91L281.89 1426.93L283.05 1425.97L284.2 1425.01L285.35 1424.07L286.5 1423.13L287.65 1422.21L288.8 1421.29L289.95 1420.39L291.1 1419.49L292.25 1418.6L293.4 1417.72L294.55 1416.85L295.7 1415.98L296.85 1415.13L298 1414.28L299.15 1413.44L300.3 1412.61L301.45 1411.79L302.6 1410.97L303.76 1410.16L304.91 1409.36L306.06 1408.56L307.21 1407.77L308.36 1406.99L309.51 1406.22L310.66 1405.45L311.81 1404.69L312.96 1403.93L314.11 1403.18L315.26 1402.44L316.41 1401.7L317.56 1400.97L318.71 1400.25L319.86 1399.53L321.01 1398.81L322.16 1398.11L323.31 1397.4L324.47 1396.71L325.62 1396.02L326.77 1395.33L327.92 1394.65L329.07 1393.97L330.22 1393.3L331.37 1392.63L332.52 1391.97L333.67 1391.32L334.82 1390.66L335.97 1390.02L337.12 1389.37L338.27 1388.74L339.42 1388.1L340.57 1387.47L341.72 1386.85L342.87 1386.23L344.02 1385.61L345.18 1385L346.33 1384.39L347.48 1383.79L348.63 1383.19L349.78 1382.59L350.93 1382L352.08 1381.41L353.23 1380.83L354.38 1380.25L355.53 1379.67L356.68 1379.1L357.83 1378.53L358.98 1377.96L360.13 1377.4L361.28 1376.84L362.43 1376.28L363.58 1375.73L364.73 1375.18L365.89 1374.63L367.04 1374.09L368.19 1373.55L369.34 1373.02L370.49 1372.48L371.64 1371.95L372.79 1371.43L373.94 1370.9L375.09 1370.38L376.24 1369.87L377.39 1369.35L378.54 1368.84L379.69 1368.33L380.84 1367.82L381.99 1367.32L383.14 1366.82L384.29 1366.32L385.44 1365.83L386.6 1365.34L387.75 1364.85L388.9 1364.36L390.05 1363.88L391.2 1363.39L392.35 1362.91L393.5 1362.44L394.65 1361.96L395.8 1361.49L396.95 1361.02L398.1 1360.56L399.25 1360.09L400.4 1359.63L401.55 1359.17L402.7 1358.71L403.85 1358.26L405 1357.8L406.15 1357.35L407.31 1356.91L408.46 1356.46L409.61 1356.02L410.76 1355.57" stroke="#A9A9A9" stroke-width="8.4" stroke-dasharray="33.5 33.5" fill="none"/>
<path d="M144.6 1316.4 V1758.5 H809.8" fill="none" stroke="#000" stroke-width="4.2" stroke-linejoin="miter"/>
<path d="M144.6 1357.1h-10.9M144.6 1459.9h-10.9M144.6 1562.7h-10.9M144.6 1665.5h-10.9" stroke="#333333" stroke-width="4.1" fill="none"/>
<text transform="translate(124.9 1370.3) scale(1 1.02)" font-size="35.2" text-anchor="end" fill="#4D4D4D" stroke="#4D4D4D" stroke-width="0.55">1.00</text>
<text transform="translate(124.9 1473.1) scale(1 1.02)" font-size="35.2" text-anchor="end" fill="#4D4D4D" stroke="#4D4D4D" stroke-width="0.55">0.75</text>
<text transform="translate(124.9 1575.9) scale(1 1.02)" font-size="35.2" text-anchor="end" fill="#4D4D4D" stroke="#4D4D4D" stroke-width="0.55">0.50</text>
<text transform="translate(124.9 1678.7) scale(1 1.02)" font-size="35.2" text-anchor="end" fill="#4D4D4D" stroke="#4D4D4D" stroke-width="0.55">0.25</text>
<path d="M174.6 1758.5v11.2M325.75 1758.5v11.2M476.9 1758.5v11.2M628.05 1758.5v11.2M779.2 1758.5v11.2" stroke="#333333" stroke-width="4.1" fill="none"/>
<text transform="translate(174.6 1804.1) scale(1 1.02)" font-size="35.2" text-anchor="middle" fill="#4D4D4D" stroke="#4D4D4D" stroke-width="0.55">0</text>
<text transform="translate(325.75 1804.1) scale(1 1.02)" font-size="35.2" text-anchor="middle" fill="#4D4D4D" stroke="#4D4D4D" stroke-width="0.55">25</text>
<text transform="translate(476.9 1804.1) scale(1 1.02)" font-size="35.2" text-anchor="middle" fill="#4D4D4D" stroke="#4D4D4D" stroke-width="0.55">50</text>
<text transform="translate(628.05 1804.1) scale(1 1.02)" font-size="35.2" text-anchor="middle" fill="#4D4D4D" stroke="#4D4D4D" stroke-width="0.55">75</text>
<text transform="translate(779.2 1804.1) scale(1 1.02)" font-size="35.2" text-anchor="middle" fill="#4D4D4D" stroke="#4D4D4D" stroke-width="0.55">100</text>
<text transform="translate(477.2 1852.8) scale(1 1.06)" font-size="43.1" text-anchor="middle" fill="#000" stroke="#000" stroke-width="0.55">Median coverage</text>
<text transform="translate(36.2 1537.45) rotate(-90) scale(1 1.06)" font-size="43.1" text-anchor="middle" fill="#000" stroke="#000" stroke-width="0.55">Observed / Expected</text>
</g>
<g id="panel-f">
<text transform="translate(840.1 1310.3) scale(1 1.04)" font-size="55.5" font-weight="bold" fill="#000" stroke="#000" stroke-width="0.3">f</text>
<g shape-rendering="crispEdges"><path d="M1592.2 1330.8h16v4h-16zM1592.2 1334.8h16v4h-16zM1592.2 1338.8h16v4h-16zM1596.2 1342.8h8v4h-8zM1348.2 1346.8h12v4h-12zM1348.2 1350.8h16v4h-16zM1348.2 1354.8h16v4h-16zM1348.2 1358.8h12v4h-12zM1340.2 1390.8h4v4h-4zM1336.2 1394.8h12v4h-12zM1400.2 1394.8h8v4h-8zM1308.2 1398.8h12v4h-12zM1332.2 1398.8h20v4h-20zM1396.2 1398.8h16v4h-16zM1308.2 1402.8h16v4h-16zM1336.2 1402.8h12v4h-12zM1396.2 1402.8h16v4h-16zM1308.2 1406.8h16v4h-16zM1340.2 1406.8h4v4h-4zM1396.2 1406.8h16v4h-16zM1312.2 1410.8h8v4h-8zM1372.2 1410.8h12v4h-12zM1372.2 1414.8h16v4h-16zM1372.2 1418.8h16v4h-16zM1372.2 1422.8h12v4h-12zM1436.2 1442.8h12v4h-12zM1436.2 1446.8h16v4h-16zM1436.2 1450.8h16v4h-16zM1440.2 1454.8h8v4h-8zM1300.2 1474.8h16v4h-16zM1220.2 1478.8h12v4h-12zM1300.2 1478.8h16v4h-16zM1220.2 1482.8h16v4h-16zM1300.2 1482.8h16v4h-16zM1220.2 1486.8h16v4h-16zM1304.2 1486.8h8v4h-8zM1220.2 1490.8h12v4h-12zM1216.2 1510.8h16v4h-16zM1336.2 1510.8h16v4h-16zM1216.2 1514.8h16v4h-16zM1332.2 1514.8h28v4h-28zM1216.2 1518.8h16v4h-16zM1324.2 1518.8h40v4h-40zM1320.2 1522.8h44v4h-44zM1320.2 1526.8h24v4h-24zM1304.2 1530.8h8v4h-8zM1320.2 1530.8h20v4h-20zM1260.2 1534.8h16v4h-16zM1300.2 1534.8h36v4h-36zM1260.2 1538.8h16v4h-16zM1300.2 1538.8h32v4h-32zM1224.2 1542.8h12v4h-12zM1252.2 1542.8h8v4h-8zM1264.2 1542.8h12v4h-12zM1300.2 1542.8h28v4h-28zM1224.2 1546.8h12v4h-12zM1248.2 1546.8h16v4h-16zM1268.2 1546.8h16v4h-16zM1300.2 1546.8h24v4h-24zM1224.2 1550.8h16v4h-16zM1248.2 1550.8h16v4h-16zM1268.2 1550.8h16v4h-16zM1296.2 1550.8h28v4h-28zM1224.2 1554.8h12v4h-12zM1248.2 1554.8h16v4h-16zM1268.2 1554.8h60v4h-60zM1188.2 1558.8h16v4h-16zM1232.2 1558.8h8v4h-8zM1248.2 1558.8h16v4h-16zM1268.2 1558.8h60v4h-60zM1180.2 1562.8h24v4h-24zM1228.2 1562.8h16v4h-16zM1248.2 1562.8h16v4h-16zM1268.2 1562.8h36v4h-36zM1312.2 1562.8h16v4h-16zM1176.2 1566.8h28v4h-28zM1208.2 1566.8h8v4h-8zM1228.2 1566.8h16v4h-16zM1248.2 1566.8h16v4h-16zM1268.2 1566.8h36v4h-36zM1312.2 1566.8h16v4h-16zM1172.2 1570.8h16v4h-16zM1204.2 1570.8h16v4h-16zM1232.2 1570.8h12v4h-12zM1252.2 1570.8h44v4h-44zM1172.2 1574.8h16v4h-16zM1204.2 1574.8h16v4h-16zM1232.2 1574.8h16v4h-16zM1252.2 1574.8h44v4h-44zM1204.2 1578.8h76v4h-76zM1288.2 1578.8h8v4h-8zM1208.2 1582.8h72v4h-72zM1288.2 1582.8h8v4h-8zM1212.2 1586.8h64v4h-64zM1288.2 1586.8h16v4h-16zM1164.2 1590.8h16v4h-16zM1192.2 1590.8h84v4h-84zM1284.2 1590.8h16v4h-16zM1164.2 1594.8h16v4h-16zM1192.2 1594.8h68v4h-68zM1280.2 1594.8h16v4h-16zM1168.2 1598.8h20v4h-20zM1192.2 1598.8h60v4h-60zM1280.2 1598.8h16v4h-16zM1168.2 1602.8h96v4h-96zM1168.2 1606.8h96v4h-96zM1164.2 1610.8h100v4h-100zM1132.2 1614.8h8v4h-8zM1160.2 1614.8h76v4h-76zM1128.2 1618.8h104v4h-104zM1128.2 1622.8h96v4h-96zM1128.2 1626.8h96v4h-96zM1136.2 1630.8h84v4h-84zM1136.2 1634.8h72v4h-72zM1124.2 1638.8h84v4h-84zM1112.2 1642.8h92v4h-92zM1112.2 1646.8h92v4h-92zM1100.2 1650.8h104v4h-104zM1092.2 1654.8h88v4h-88zM1188.2 1654.8h8v4h-8zM1088.2 1658.8h92v4h-92zM1088.2 1662.8h88v4h-88zM1088.2 1666.8h88v4h-88zM1076.2 1670.8h88v4h-88zM1068.2 1674.8h96v4h-96zM1068.2 1678.8h92v4h-92zM1056.2 1682.8h100v4h-100zM1044.2 1686.8h104v4h-104zM1044.2 1690.8h100v4h-100zM1044.2 1694.8h92v4h-92zM1040.2 1698.8h84v4h-84zM1036.2 1702.8h84v4h-84zM1036.2 1706.8h76v4h-76zM1036.2 1710.8h68v4h-68zM1036.2 1714.8h60v4h-60zM1032.2 1718.8h60v4h-60zM1032.2 1722.8h52v4h-52zM1028.2 1726.8h48v4h-48zM1024.2 1730.8h48v4h-48zM1024.2 1734.8h36v4h-36zM1024.2 1738.8h32v4h-32zM1024.2 1742.8h28v4h-28z" fill="#AAAAAA"/><path d="M1596.2 1326.8h8v4h-8zM1604.2 1342.8h4v4h-4zM1344.2 1350.8h4v4h-4zM1344.2 1354.8h4v4h-4zM1360.2 1358.8h4v4h-4zM1336.2 1390.8h4v4h-4zM1344.2 1390.8h4v4h-4zM1312.2 1394.8h4v4h-4zM1332.2 1394.8h4v4h-4zM1348.2 1394.8h4v4h-4zM1320.2 1398.8h4v4h-4zM1304.2 1402.8h4v4h-4zM1332.2 1402.8h4v4h-4zM1348.2 1402.8h4v4h-4zM1336.2 1406.8h4v4h-4zM1344.2 1406.8h4v4h-4zM1308.2 1410.8h4v4h-4zM1400.2 1410.8h8v4h-8zM1368.2 1414.8h4v4h-4zM1368.2 1418.8h4v4h-4zM1440.2 1438.8h8v4h-8zM1448.2 1442.8h4v4h-4zM1432.2 1446.8h4v4h-4zM1436.2 1454.8h4v4h-4zM1304.2 1470.8h8v4h-8zM1216.2 1482.8h4v4h-4zM1216.2 1486.8h4v4h-4zM1300.2 1486.8h4v4h-4zM1332.2 1510.8h4v4h-4zM1320.2 1518.8h4v4h-4zM1344.2 1526.8h4v4h-4zM1300.2 1530.8h4v4h-4zM1340.2 1530.8h4v4h-4zM1248.2 1542.8h4v4h-4zM1260.2 1542.8h4v4h-4zM1220.2 1546.8h4v4h-4zM1236.2 1546.8h4v4h-4zM1244.2 1546.8h4v4h-4zM1220.2 1550.8h4v4h-4zM1244.2 1550.8h4v4h-4zM1184.2 1558.8h4v4h-4zM1228.2 1558.8h4v4h-4zM1240.2 1558.8h4v4h-4zM1176.2 1562.8h4v4h-4zM1304.2 1562.8h8v4h-8zM1172.2 1566.8h4v4h-4zM1204.2 1566.8h4v4h-4zM1228.2 1570.8h4v4h-4zM1204.2 1582.8h4v4h-4zM1284.2 1586.8h4v4h-4zM1280.2 1590.8h4v4h-4zM1128.2 1614.8h4v4h-4z" fill="#AAAAAA" fill-opacity="0.4"/></g>
<path d="M1001.8 1758.5L1656 1318.3" stroke="#000" stroke-width="4.3" stroke-linecap="round" fill="none"/>
<path d="M1001.8 1316.4 V1758.5 H1657.4" fill="none" stroke="#000" stroke-width="4.2" stroke-linejoin="miter"/>
<path d="M1001.8 1738.4h-10.9M1001.8 1657.7h-10.9M1001.8 1577h-10.9M1001.8 1496.3h-10.9M1001.8 1415.6h-10.9M1001.8 1334.9h-10.9" stroke="#333333" stroke-width="4.1" fill="none"/>
<text transform="translate(982.1 1751.6) scale(1 1.02)" font-size="35.2" text-anchor="end" fill="#4D4D4D" stroke="#4D4D4D" stroke-width="0.55">0</text>
<text transform="translate(982.1 1670.9) scale(1 1.02)" font-size="35.2" text-anchor="end" fill="#4D4D4D" stroke="#4D4D4D" stroke-width="0.55">500</text>
<text transform="translate(982.1 1590.2) scale(1 1.02)" font-size="35.2" text-anchor="end" fill="#4D4D4D" stroke="#4D4D4D" stroke-width="0.55">1000</text>
<text transform="translate(982.1 1509.5) scale(1 1.02)" font-size="35.2" text-anchor="end" fill="#4D4D4D" stroke="#4D4D4D" stroke-width="0.55">1500</text>
<text transform="translate(982.1 1428.8) scale(1 1.02)" font-size="35.2" text-anchor="end" fill="#4D4D4D" stroke="#4D4D4D" stroke-width="0.55">2000</text>
<text transform="translate(982.1 1348.1) scale(1 1.02)" font-size="35.2" text-anchor="end" fill="#4D4D4D" stroke="#4D4D4D" stroke-width="0.55">2500</text>
<path d="M1031.3 1758.5v11.2M1151.3 1758.5v11.2M1271.3 1758.5v11.2M1391.3 1758.5v11.2M1511.3 1758.5v11.2M1631.3 1758.5v11.2" stroke="#333333" stroke-width="4.1" fill="none"/>
<text transform="translate(1031.3 1804.1) scale(1 1.02)" font-size="35.2" text-anchor="middle" fill="#4D4D4D" stroke="#4D4D4D" stroke-width="0.55">0</text>
<text transform="translate(1151.3 1804.1) scale(1 1.02)" font-size="35.2" text-anchor="middle" fill="#4D4D4D" stroke="#4D4D4D" stroke-width="0.55">500</text>
<text transform="translate(1271.3 1804.1) scale(1 1.02)" font-size="35.2" text-anchor="middle" fill="#4D4D4D" stroke="#4D4D4D" stroke-width="0.55">1000</text>
<text transform="translate(1391.3 1804.1) scale(1 1.02)" font-size="35.2" text-anchor="middle" fill="#4D4D4D" stroke="#4D4D4D" stroke-width="0.55">1500</text>
<text transform="translate(1511.3 1804.1) scale(1 1.02)" font-size="35.2" text-anchor="middle" fill="#4D4D4D" stroke="#4D4D4D" stroke-width="0.55">2000</text>
<text transform="translate(1631.3 1804.1) scale(1 1.02)" font-size="35.2" text-anchor="middle" fill="#4D4D4D" stroke="#4D4D4D" stroke-width="0.55">2500</text>
<text transform="translate(1031 1351.8) scale(1 1.06)" font-size="43.1" fill="#AAAAAA" stroke="#AAAAAA" stroke-width="0.55">Synonymous</text>
<text transform="translate(1031.5 1392) scale(1 1.06)" font-size="43.1" fill="#000" stroke="#000" stroke-width="0.55">r = 0.9791</text>
<text transform="translate(1329.6 1852.8) scale(1 1.06)" font-size="43.1" text-anchor="middle" fill="#000" stroke="#000" stroke-width="0.55">Expected variants</text>
<text transform="translate(884.2 1537.45) rotate(-90) scale(1 1.06)" font-size="43.1" text-anchor="middle" fill="#000" stroke="#000" stroke-width="0.55">Observed variants</text>
</g>
<g id="panel-g">
<text transform="translate(-0.2 1946.2) scale(1 1.04)" font-size="55.5" font-weight="bold" fill="#000" stroke="#000" stroke-width="0.3">g</text>
<g shape-rendering="crispEdges"><path d="M753 1965.8h8v4h-8zM749 1969.8h16v4h-16zM473 1973.8h4v4h-4zM749 1973.8h16v4h-16zM469 1977.8h12v4h-12zM749 1977.8h12v4h-12zM465 1981.8h16v4h-16zM469 1985.8h12v4h-12zM517 2005.8h4v4h-4zM513 2009.8h12v4h-12zM513 2013.8h16v4h-16zM513 2017.8h12v4h-12zM405 2049.8h8v4h-8zM653 2049.8h12v4h-12zM401 2053.8h16v4h-16zM653 2053.8h16v4h-16zM401 2057.8h16v4h-16zM653 2057.8h16v4h-16zM401 2061.8h12v4h-12zM657 2061.8h8v4h-8zM541 2097.8h12v4h-12zM541 2101.8h12v4h-12zM589 2101.8h12v4h-12zM541 2105.8h12v4h-12zM585 2105.8h16v4h-16zM541 2109.8h12v4h-12zM585 2109.8h16v4h-16zM545 2113.8h12v4h-12zM589 2113.8h8v4h-8zM541 2117.8h16v4h-16zM509 2121.8h20v4h-20zM541 2121.8h16v4h-16zM509 2125.8h24v4h-24zM541 2125.8h16v4h-16zM509 2129.8h20v4h-20zM513 2133.8h12v4h-12zM421 2137.8h12v4h-12zM469 2137.8h16v4h-16zM421 2141.8h16v4h-16zM469 2141.8h16v4h-16zM421 2145.8h16v4h-16zM469 2145.8h16v4h-16zM425 2149.8h8v4h-8zM521 2149.8h8v4h-8zM465 2153.8h16v4h-16zM517 2153.8h16v4h-16zM425 2157.8h8v4h-8zM461 2157.8h24v4h-24zM517 2157.8h16v4h-16zM421 2161.8h16v4h-16zM461 2161.8h24v4h-24zM517 2161.8h16v4h-16zM421 2165.8h16v4h-16zM461 2165.8h24v4h-24zM425 2169.8h12v4h-12zM497 2169.8h16v4h-16zM497 2173.8h16v4h-16zM389 2177.8h12v4h-12zM497 2177.8h16v4h-16zM385 2181.8h16v4h-16zM457 2181.8h12v4h-12zM497 2181.8h16v4h-16zM385 2185.8h16v4h-16zM453 2185.8h16v4h-16zM497 2185.8h20v4h-20zM389 2189.8h8v4h-8zM445 2189.8h24v4h-24zM497 2189.8h20v4h-20zM441 2193.8h44v4h-44zM493 2193.8h24v4h-24zM441 2197.8h88v4h-88zM425 2201.8h12v4h-12zM441 2201.8h88v4h-88zM329 2205.8h4v4h-4zM361 2205.8h12v4h-12zM405 2205.8h12v4h-12zM421 2205.8h16v4h-16zM441 2205.8h40v4h-40zM489 2205.8h40v4h-40zM325 2209.8h12v4h-12zM357 2209.8h16v4h-16zM401 2209.8h16v4h-16zM421 2209.8h56v4h-56zM489 2209.8h8v4h-8zM505 2209.8h12v4h-12zM321 2213.8h16v4h-16zM357 2213.8h16v4h-16zM401 2213.8h16v4h-16zM425 2213.8h52v4h-52zM489 2213.8h8v4h-8zM505 2213.8h12v4h-12zM325 2217.8h12v4h-12zM349 2217.8h8v4h-8zM361 2217.8h12v4h-12zM405 2217.8h72v4h-72zM485 2217.8h12v4h-12zM329 2221.8h4v4h-4zM345 2221.8h16v4h-16zM405 2221.8h72v4h-72zM485 2221.8h12v4h-12zM345 2225.8h16v4h-16zM401 2225.8h72v4h-72zM345 2229.8h12v4h-12zM393 2229.8h80v4h-80zM477 2229.8h12v4h-12zM373 2233.8h120v4h-120zM285 2237.8h16v4h-16zM369 2237.8h84v4h-84zM457 2237.8h16v4h-16zM477 2237.8h24v4h-24zM285 2241.8h16v4h-16zM369 2241.8h84v4h-84zM457 2241.8h16v4h-16zM481 2241.8h20v4h-20zM285 2245.8h16v4h-16zM345 2245.8h8v4h-8zM373 2245.8h44v4h-44zM425 2245.8h28v4h-28zM485 2245.8h16v4h-16zM341 2249.8h16v4h-16zM373 2249.8h44v4h-44zM425 2249.8h28v4h-28zM457 2249.8h8v4h-8zM341 2253.8h76v4h-76zM425 2253.8h48v4h-48zM333 2257.8h84v4h-84zM425 2257.8h12v4h-12zM453 2257.8h24v4h-24zM333 2261.8h84v4h-84zM453 2261.8h24v4h-24zM497 2261.8h12v4h-12zM333 2265.8h84v4h-84zM453 2265.8h24v4h-24zM497 2265.8h16v4h-16zM333 2269.8h84v4h-84zM441 2269.8h8v4h-8zM453 2269.8h16v4h-16zM497 2269.8h16v4h-16zM321 2273.8h96v4h-96zM437 2273.8h16v4h-16zM497 2273.8h12v4h-12zM281 2277.8h12v4h-12zM309 2277.8h8v4h-8zM321 2277.8h96v4h-96zM437 2277.8h16v4h-16zM281 2281.8h132v4h-132zM433 2281.8h16v4h-16zM281 2285.8h100v4h-100zM433 2285.8h16v4h-16zM277 2289.8h104v4h-104zM433 2289.8h16v4h-16zM277 2293.8h104v4h-104zM405 2293.8h12v4h-12zM437 2293.8h8v4h-8zM229 2297.8h4v4h-4zM273 2297.8h104v4h-104zM401 2297.8h16v4h-16zM429 2297.8h8v4h-8zM225 2301.8h16v4h-16zM265 2301.8h112v4h-112zM385 2301.8h12v4h-12zM401 2301.8h16v4h-16zM425 2301.8h16v4h-16zM225 2305.8h16v4h-16zM261 2305.8h136v4h-136zM405 2305.8h8v4h-8zM425 2305.8h16v4h-16zM225 2309.8h16v4h-16zM261 2309.8h136v4h-136zM425 2309.8h12v4h-12zM249 2313.8h128v4h-128zM457 2313.8h16v4h-16zM249 2317.8h128v4h-128zM457 2317.8h16v4h-16zM241 2321.8h124v4h-124zM457 2321.8h16v4h-16zM241 2325.8h116v4h-116zM461 2325.8h4v4h-4zM241 2329.8h116v4h-116zM241 2333.8h116v4h-116zM229 2337.8h128v4h-128zM369 2337.8h8v4h-8zM225 2341.8h128v4h-128zM365 2341.8h16v4h-16zM221 2345.8h112v4h-112zM341 2345.8h12v4h-12zM365 2345.8h16v4h-16zM209 2349.8h124v4h-124zM369 2349.8h12v4h-12zM205 2353.8h128v4h-128zM201 2357.8h132v4h-132zM189 2361.8h144v4h-144zM189 2365.8h124v4h-124zM317 2365.8h16v4h-16zM189 2369.8h124v4h-124zM189 2373.8h104v4h-104zM297 2373.8h12v4h-12zM189 2377.8h84v4h-84zM277 2377.8h16v4h-16zM181 2381.8h92v4h-92zM277 2381.8h16v4h-16zM181 2385.8h92v4h-92zM177 2389.8h96v4h-96zM177 2393.8h72v4h-72zM177 2397.8h48v4h-48zM181 2401.8h40v4h-40z" fill="#FF6103"/><path d="M749 1965.8h4v4h-4zM469 1973.8h4v4h-4zM477 1973.8h4v4h-4zM745 1973.8h4v4h-4zM465 1977.8h4v4h-4zM761 1977.8h4v4h-4zM481 1981.8h4v4h-4zM753 1981.8h8v4h-8zM465 1985.8h4v4h-4zM469 1989.8h8v4h-8zM513 2005.8h4v4h-4zM521 2005.8h4v4h-4zM509 2009.8h4v4h-4zM525 2009.8h4v4h-4zM509 2013.8h4v4h-4zM525 2017.8h4v4h-4zM517 2021.8h4v4h-4zM401 2049.8h4v4h-4zM413 2049.8h4v4h-4zM665 2049.8h4v4h-4zM413 2061.8h4v4h-4zM653 2061.8h4v4h-4zM537 2101.8h4v4h-4zM553 2101.8h4v4h-4zM585 2101.8h4v4h-4zM537 2105.8h4v4h-4zM553 2105.8h4v4h-4zM541 2113.8h4v4h-4zM597 2113.8h4v4h-4zM513 2117.8h12v4h-12zM557 2117.8h4v4h-4zM557 2121.8h4v4h-4zM505 2125.8h4v4h-4zM529 2129.8h4v4h-4zM545 2129.8h8v4h-8zM473 2133.8h8v4h-8zM509 2133.8h4v4h-4zM525 2133.8h4v4h-4zM433 2137.8h4v4h-4zM465 2141.8h4v4h-4zM421 2149.8h4v4h-4zM473 2149.8h8v4h-8zM517 2149.8h4v4h-4zM481 2153.8h4v4h-4zM513 2153.8h4v4h-4zM433 2157.8h4v4h-4zM513 2157.8h4v4h-4zM437 2165.8h4v4h-4zM501 2165.8h8v4h-8zM521 2165.8h8v4h-8zM421 2169.8h4v4h-4zM465 2169.8h16v4h-16zM393 2173.8h4v4h-4zM429 2173.8h4v4h-4zM385 2177.8h4v4h-4zM401 2181.8h4v4h-4zM453 2181.8h4v4h-4zM397 2189.8h4v4h-4zM441 2189.8h4v4h-4zM421 2201.8h4v4h-4zM325 2205.8h4v4h-4zM333 2205.8h4v4h-4zM401 2205.8h4v4h-4zM321 2209.8h4v4h-4zM337 2209.8h4v4h-4zM373 2209.8h4v4h-4zM337 2213.8h4v4h-4zM373 2213.8h4v4h-4zM485 2213.8h4v4h-4zM321 2217.8h4v4h-4zM337 2217.8h4v4h-4zM345 2217.8h4v4h-4zM357 2217.8h4v4h-4zM325 2221.8h4v4h-4zM333 2221.8h4v4h-4zM477 2225.8h8v4h-8zM357 2229.8h4v4h-4zM473 2229.8h4v4h-4zM289 2233.8h8v4h-8zM369 2233.8h4v4h-4zM493 2233.8h4v4h-4zM473 2237.8h4v4h-4zM477 2241.8h4v4h-4zM501 2241.8h4v4h-4zM341 2245.8h4v4h-4zM289 2249.8h8v4h-8zM465 2249.8h4v4h-4zM489 2249.8h8v4h-8zM473 2253.8h4v4h-4zM477 2261.8h4v4h-4zM493 2265.8h4v4h-4zM437 2269.8h4v4h-4zM469 2269.8h4v4h-4zM493 2269.8h4v4h-4zM433 2273.8h4v4h-4zM457 2273.8h8v4h-8zM433 2277.8h4v4h-4zM449 2281.8h4v4h-4zM277 2285.8h4v4h-4zM401 2293.8h4v4h-4zM445 2293.8h4v4h-4zM233 2297.8h4v4h-4zM425 2297.8h4v4h-4zM413 2305.8h4v4h-4zM437 2309.8h4v4h-4zM461 2309.8h8v4h-8zM229 2313.8h8v4h-8zM429 2313.8h8v4h-8zM465 2325.8h4v4h-4zM377 2337.8h4v4h-4zM365 2349.8h4v4h-4zM293 2373.8h4v4h-4zM309 2373.8h4v4h-4zM177 2401.8h4v4h-4z" fill="#FF6103" fill-opacity="0.4"/></g>
<path d="M154 2417.4L807.6 1953.7" stroke="#000" stroke-width="4.3" stroke-linecap="round" fill="none"/>
<path d="M154 1952.3 V2417.4 H809.8" fill="none" stroke="#000" stroke-width="4.2" stroke-linejoin="miter"/>
<path d="M154 2396.7h-10.9M154 2243.8h-10.9M154 2090.9h-10.9" stroke="#333333" stroke-width="4.1" fill="none"/>
<text transform="translate(134.3 2409.9) scale(1 1.02)" font-size="35.2" text-anchor="end" fill="#4D4D4D" stroke="#4D4D4D" stroke-width="0.55">0</text>
<text transform="translate(134.3 2257) scale(1 1.02)" font-size="35.2" text-anchor="end" fill="#4D4D4D" stroke="#4D4D4D" stroke-width="0.55">2000</text>
<text transform="translate(134.3 2104.1) scale(1 1.02)" font-size="35.2" text-anchor="end" fill="#4D4D4D" stroke="#4D4D4D" stroke-width="0.55">4000</text>
<path d="M183.5 2417.4v11.2M399.4 2417.4v11.2M615.3 2417.4v11.2" stroke="#333333" stroke-width="4.1" fill="none"/>
<text transform="translate(183.5 2461.7) scale(1 1.02)" font-size="35.2" text-anchor="middle" fill="#4D4D4D" stroke="#4D4D4D" stroke-width="0.55">0</text>
<text transform="translate(399.4 2461.7) scale(1 1.02)" font-size="35.2" text-anchor="middle" fill="#4D4D4D" stroke="#4D4D4D" stroke-width="0.55">2000</text>
<text transform="translate(615.3 2461.7) scale(1 1.02)" font-size="35.2" text-anchor="middle" fill="#4D4D4D" stroke="#4D4D4D" stroke-width="0.55">4000</text>
<text transform="translate(184 1988.5) scale(1 1.06)" font-size="43.1" fill="#FF6103" stroke="#FF6103" stroke-width="0.55">Missense</text>
<text transform="translate(184 2031.4) scale(1 1.06)" font-size="43.1" fill="#000" stroke="#000" stroke-width="0.55">r = 0.9492</text>
<text transform="translate(481.9 2511.5) scale(1 1.06)" font-size="43.1" text-anchor="middle" fill="#000" stroke="#000" stroke-width="0.55">Expected variants</text>
<text transform="translate(36.2 2184.85) rotate(-90) scale(1 1.06)" font-size="43.1" text-anchor="middle" fill="#000" stroke="#000" stroke-width="0.55">Observed variants</text>
</g>
<g id="panel-h">
<text transform="translate(847.6 1946.2) scale(1 1.04)" font-size="55.5" font-weight="bold" fill="#000" stroke="#000" stroke-width="0.3">h</text>
<g shape-rendering="crispEdges"><path d="M1481.4 2133.6h12v4h-12zM1481.4 2137.6h12v4h-12zM1481.4 2141.6h12v4h-12zM1485.4 2145.6h4v4h-4zM1261.4 2229.6h12v4h-12zM1257.4 2233.6h16v4h-16zM1309.4 2233.6h4v4h-4zM1625.4 2233.6h12v4h-12zM1245.4 2237.6h8v4h-8zM1257.4 2237.6h16v4h-16zM1305.4 2237.6h12v4h-12zM1621.4 2237.6h16v4h-16zM1241.4 2241.6h16v4h-16zM1261.4 2241.6h12v4h-12zM1305.4 2241.6h16v4h-16zM1621.4 2241.6h16v4h-16zM1241.4 2245.6h16v4h-16zM1305.4 2245.6h12v4h-12zM1625.4 2245.6h8v4h-8zM1241.4 2249.6h16v4h-16zM1309.4 2249.6h4v4h-4zM1273.4 2261.6h8v4h-8zM1253.4 2265.6h8v4h-8zM1269.4 2265.6h16v4h-16zM1305.4 2265.6h8v4h-8zM1501.4 2265.6h16v4h-16zM1249.4 2269.6h16v4h-16zM1269.4 2269.6h16v4h-16zM1297.4 2269.6h20v4h-20zM1501.4 2269.6h16v4h-16zM1249.4 2273.6h16v4h-16zM1269.4 2273.6h16v4h-16zM1293.4 2273.6h24v4h-24zM1501.4 2273.6h16v4h-16zM1249.4 2277.6h16v4h-16zM1269.4 2277.6h44v4h-44zM1505.4 2277.6h8v4h-8zM1249.4 2281.6h16v4h-16zM1269.4 2281.6h40v4h-40zM1157.4 2285.6h8v4h-8zM1249.4 2285.6h16v4h-16zM1269.4 2285.6h36v4h-36zM1125.4 2289.6h12v4h-12zM1153.4 2289.6h16v4h-16zM1221.4 2289.6h8v4h-8zM1253.4 2289.6h4v4h-4zM1277.4 2289.6h48v4h-48zM1361.4 2289.6h8v4h-8zM1473.4 2289.6h16v4h-16zM1121.4 2293.6h20v4h-20zM1153.4 2293.6h16v4h-16zM1201.4 2293.6h32v4h-32zM1293.4 2293.6h44v4h-44zM1357.4 2293.6h16v4h-16zM1473.4 2293.6h16v4h-16zM1121.4 2297.6h20v4h-20zM1153.4 2297.6h20v4h-20zM1189.4 2297.6h48v4h-48zM1245.4 2297.6h20v4h-20zM1293.4 2297.6h44v4h-44zM1357.4 2297.6h16v4h-16zM1473.4 2297.6h16v4h-16zM1069.4 2301.6h24v4h-24zM1125.4 2301.6h144v4h-144zM1293.4 2301.6h44v4h-44zM1357.4 2301.6h16v4h-16zM1065.4 2305.6h32v4h-32zM1141.4 2305.6h68v4h-68zM1213.4 2305.6h56v4h-56zM1301.4 2305.6h4v4h-4zM1321.4 2305.6h20v4h-20zM1069.4 2309.6h24v4h-24zM1117.4 2309.6h8v4h-8zM1137.4 2309.6h72v4h-72zM1217.4 2309.6h56v4h-56zM1325.4 2309.6h12v4h-12zM1069.4 2313.6h16v4h-16zM1093.4 2313.6h16v4h-16zM1113.4 2313.6h16v4h-16zM1133.4 2313.6h76v4h-76zM1217.4 2313.6h28v4h-28zM1249.4 2313.6h24v4h-24zM1321.4 2313.6h20v4h-20zM1093.4 2317.6h112v4h-112zM1225.4 2317.6h16v4h-16zM1253.4 2317.6h4v4h-4zM1261.4 2317.6h20v4h-20zM1321.4 2317.6h16v4h-16zM1093.4 2321.6h116v4h-116zM1229.4 2321.6h12v4h-12zM1249.4 2321.6h36v4h-36zM1297.4 2321.6h12v4h-12zM1317.4 2321.6h20v4h-20zM1385.4 2321.6h8v4h-8zM1069.4 2325.6h16v4h-16zM1093.4 2325.6h120v4h-120zM1249.4 2325.6h16v4h-16zM1269.4 2325.6h16v4h-16zM1297.4 2325.6h16v4h-16zM1317.4 2325.6h16v4h-16zM1381.4 2325.6h16v4h-16zM1065.4 2329.6h148v4h-148zM1225.4 2329.6h12v4h-12zM1249.4 2329.6h12v4h-12zM1273.4 2329.6h16v4h-16zM1297.4 2329.6h16v4h-16zM1317.4 2329.6h12v4h-12zM1381.4 2329.6h16v4h-16zM1065.4 2333.6h148v4h-148zM1225.4 2333.6h16v4h-16zM1249.4 2333.6h8v4h-8zM1273.4 2333.6h16v4h-16zM1297.4 2333.6h12v4h-12zM1317.4 2333.6h12v4h-12zM1385.4 2333.6h12v4h-12zM1037.4 2337.6h176v4h-176zM1225.4 2337.6h16v4h-16zM1245.4 2337.6h12v4h-12zM1273.4 2337.6h16v4h-16zM1317.4 2337.6h16v4h-16zM1037.4 2341.6h176v4h-176zM1225.4 2341.6h36v4h-36zM1269.4 2341.6h16v4h-16zM1317.4 2341.6h16v4h-16zM1053.4 2345.6h160v4h-160zM1229.4 2345.6h28v4h-28zM1269.4 2345.6h16v4h-16zM1317.4 2345.6h20v4h-20zM1041.4 2349.6h172v4h-172zM1229.4 2349.6h24v4h-24zM1261.4 2349.6h24v4h-24zM1317.4 2349.6h24v4h-24zM1017.4 2353.6h16v4h-16zM1041.4 2353.6h172v4h-172zM1233.4 2353.6h20v4h-20zM1257.4 2353.6h24v4h-24zM1309.4 2353.6h32v4h-32zM1013.4 2357.6h196v4h-196zM1217.4 2357.6h12v4h-12zM1233.4 2357.6h44v4h-44zM1305.4 2357.6h36v4h-36zM1357.4 2357.6h12v4h-12zM1017.4 2361.6h212v4h-212zM1237.4 2361.6h36v4h-36zM1305.4 2361.6h20v4h-20zM1357.4 2361.6h16v4h-16zM1025.4 2365.6h204v4h-204zM1241.4 2365.6h12v4h-12zM1257.4 2365.6h12v4h-12zM1305.4 2365.6h16v4h-16zM1357.4 2365.6h16v4h-16zM1025.4 2369.6h232v4h-232zM1305.4 2369.6h12v4h-12zM1357.4 2369.6h12v4h-12zM1021.4 2373.6h236v4h-236zM1413.4 2373.6h8v4h-8zM1017.4 2377.6h240v4h-240zM1265.4 2377.6h48v4h-48zM1329.4 2377.6h16v4h-16zM1409.4 2377.6h16v4h-16zM1013.4 2381.6h220v4h-220zM1241.4 2381.6h16v4h-16zM1265.4 2381.6h52v4h-52zM1321.4 2381.6h24v4h-24zM1409.4 2381.6h16v4h-16zM1009.4 2385.6h224v4h-224zM1241.4 2385.6h72v4h-72zM1317.4 2385.6h28v4h-28zM1413.4 2385.6h12v4h-12zM1009.4 2389.6h300v4h-300zM1317.4 2389.6h24v4h-24zM1005.4 2393.6h276v4h-276zM1297.4 2393.6h8v4h-8zM1317.4 2393.6h16v4h-16zM1009.4 2397.6h224v4h-224zM1241.4 2397.6h8v4h-8zM1257.4 2397.6h20v4h-20zM1009.4 2401.6h176v4h-176zM1197.4 2401.6h24v4h-24z" fill="#9D1309"/><path d="M1477.4 2137.6h4v4h-4zM1493.4 2137.6h4v4h-4zM1477.4 2141.6h4v4h-4zM1481.4 2145.6h4v4h-4zM1489.4 2145.6h4v4h-4zM1625.4 2229.6h8v4h-8zM1273.4 2233.6h4v4h-4zM1305.4 2233.6h4v4h-4zM1313.4 2233.6h4v4h-4zM1621.4 2233.6h4v4h-4zM1273.4 2237.6h4v4h-4zM1317.4 2237.6h4v4h-4zM1637.4 2237.6h4v4h-4zM1301.4 2241.6h4v4h-4zM1317.4 2245.6h4v4h-4zM1633.4 2245.6h4v4h-4zM1305.4 2249.6h4v4h-4zM1313.4 2249.6h4v4h-4zM1245.4 2253.6h8v4h-8zM1505.4 2261.6h8v4h-8zM1249.4 2265.6h4v4h-4zM1301.4 2265.6h4v4h-4zM1289.4 2273.6h4v4h-4zM1265.4 2277.6h4v4h-4zM1313.4 2277.6h4v4h-4zM1265.4 2281.6h4v4h-4zM1305.4 2285.6h4v4h-4zM1477.4 2285.6h8v4h-8zM1217.4 2289.6h4v4h-4zM1257.4 2289.6h4v4h-4zM1273.4 2289.6h4v4h-4zM1325.4 2289.6h8v4h-8zM1357.4 2289.6h4v4h-4zM1233.4 2293.6h4v4h-4zM1281.4 2293.6h4v4h-4zM1185.4 2297.6h4v4h-4zM1241.4 2297.6h4v4h-4zM1337.4 2301.6h4v4h-4zM1477.4 2301.6h8v4h-8zM1137.4 2305.6h4v4h-4zM1269.4 2305.6h4v4h-4zM1297.4 2305.6h4v4h-4zM1305.4 2305.6h8v4h-8zM1317.4 2305.6h4v4h-4zM1361.4 2305.6h8v4h-8zM1133.4 2309.6h4v4h-4zM1213.4 2309.6h4v4h-4zM1321.4 2309.6h4v4h-4zM1337.4 2309.6h4v4h-4zM1241.4 2317.6h4v4h-4zM1249.4 2317.6h4v4h-4zM1257.4 2317.6h4v4h-4zM1281.4 2317.6h4v4h-4zM1317.4 2317.6h4v4h-4zM1337.4 2317.6h4v4h-4zM1225.4 2321.6h4v4h-4zM1313.4 2321.6h4v4h-4zM1393.4 2321.6h4v4h-4zM1065.4 2325.6h4v4h-4zM1245.4 2325.6h4v4h-4zM1285.4 2325.6h4v4h-4zM1293.4 2325.6h4v4h-4zM1313.4 2325.6h4v4h-4zM1237.4 2329.6h4v4h-4zM1261.4 2329.6h4v4h-4zM1269.4 2329.6h4v4h-4zM1293.4 2329.6h4v4h-4zM1313.4 2329.6h4v4h-4zM1329.4 2329.6h4v4h-4zM1397.4 2329.6h4v4h-4zM1221.4 2333.6h4v4h-4zM1245.4 2333.6h4v4h-4zM1257.4 2333.6h4v4h-4zM1289.4 2333.6h4v4h-4zM1381.4 2333.6h4v4h-4zM1221.4 2337.6h4v4h-4zM1241.4 2337.6h4v4h-4zM1257.4 2337.6h4v4h-4zM1269.4 2337.6h4v4h-4zM1313.4 2337.6h4v4h-4zM1385.4 2337.6h8v4h-8zM1285.4 2341.6h4v4h-4zM1313.4 2341.6h4v4h-4zM1333.4 2341.6h4v4h-4zM1257.4 2345.6h4v4h-4zM1265.4 2345.6h4v4h-4zM1337.4 2345.6h4v4h-4zM1253.4 2349.6h4v4h-4zM1313.4 2349.6h4v4h-4zM1013.4 2353.6h4v4h-4zM1253.4 2353.6h4v4h-4zM1325.4 2361.6h12v4h-12zM1353.4 2361.6h4v4h-4zM1237.4 2365.6h4v4h-4zM1253.4 2365.6h4v4h-4zM1301.4 2365.6h4v4h-4zM1353.4 2365.6h4v4h-4zM1317.4 2369.6h4v4h-4zM1017.4 2373.6h4v4h-4zM1289.4 2373.6h4v4h-4zM1305.4 2373.6h8v4h-8zM1333.4 2373.6h8v4h-8zM1421.4 2373.6h4v4h-4zM1013.4 2377.6h4v4h-4zM1313.4 2377.6h4v4h-4zM1325.4 2377.6h4v4h-4zM1313.4 2385.6h4v4h-4zM1409.4 2385.6h4v4h-4zM1413.4 2389.6h8v4h-8zM1293.4 2393.6h4v4h-4zM1305.4 2393.6h4v4h-4zM1333.4 2393.6h4v4h-4zM1233.4 2397.6h4v4h-4zM1321.4 2397.6h8v4h-8zM1221.4 2401.6h4v4h-4z" fill="#9D1309" fill-opacity="0.4"/></g>
<path d="M982 2417.4L1655.7 1953.6" stroke="#000" stroke-width="4.3" stroke-linecap="round" fill="none"/>
<path d="M982 1952.3 V2417.4 H1657.4" fill="none" stroke="#000" stroke-width="4.2" stroke-linejoin="miter"/>
<path d="M982 2396.6h-10.9M982 2309.6h-10.9M982 2222.6h-10.9M982 2135.6h-10.9M982 2048.6h-10.9M982 1961.6h-10.9" stroke="#333333" stroke-width="4.1" fill="none"/>
<text transform="translate(962.3 2409.8) scale(1 1.02)" font-size="35.2" text-anchor="end" fill="#4D4D4D" stroke="#4D4D4D" stroke-width="0.55">0</text>
<text transform="translate(962.3 2322.8) scale(1 1.02)" font-size="35.2" text-anchor="end" fill="#4D4D4D" stroke="#4D4D4D" stroke-width="0.55">100</text>
<text transform="translate(962.3 2235.8) scale(1 1.02)" font-size="35.2" text-anchor="end" fill="#4D4D4D" stroke="#4D4D4D" stroke-width="0.55">200</text>
<text transform="translate(962.3 2148.8) scale(1 1.02)" font-size="35.2" text-anchor="end" fill="#4D4D4D" stroke="#4D4D4D" stroke-width="0.55">300</text>
<text transform="translate(962.3 2061.8) scale(1 1.02)" font-size="35.2" text-anchor="end" fill="#4D4D4D" stroke="#4D4D4D" stroke-width="0.55">400</text>
<text transform="translate(962.3 1974.8) scale(1 1.02)" font-size="35.2" text-anchor="end" fill="#4D4D4D" stroke="#4D4D4D" stroke-width="0.55">500</text>
<path d="M1012.3 2417.4v11.2M1138.4 2417.4v11.2M1264.5 2417.4v11.2M1390.6 2417.4v11.2M1516.7 2417.4v11.2M1642.8 2417.4v11.2" stroke="#333333" stroke-width="4.1" fill="none"/>
<text transform="translate(1012.3 2461.7) scale(1 1.02)" font-size="35.2" text-anchor="middle" fill="#4D4D4D" stroke="#4D4D4D" stroke-width="0.55">0</text>
<text transform="translate(1138.4 2461.7) scale(1 1.02)" font-size="35.2" text-anchor="middle" fill="#4D4D4D" stroke="#4D4D4D" stroke-width="0.55">100</text>
<text transform="translate(1264.5 2461.7) scale(1 1.02)" font-size="35.2" text-anchor="middle" fill="#4D4D4D" stroke="#4D4D4D" stroke-width="0.55">200</text>
<text transform="translate(1390.6 2461.7) scale(1 1.02)" font-size="35.2" text-anchor="middle" fill="#4D4D4D" stroke="#4D4D4D" stroke-width="0.55">300</text>
<text transform="translate(1516.7 2461.7) scale(1 1.02)" font-size="35.2" text-anchor="middle" fill="#4D4D4D" stroke="#4D4D4D" stroke-width="0.55">400</text>
<text transform="translate(1642.8 2461.7) scale(1 1.02)" font-size="35.2" text-anchor="middle" fill="#4D4D4D" stroke="#4D4D4D" stroke-width="0.55">500</text>
<text transform="translate(1013 1988.5) scale(1 1.06)" font-size="43.1" fill="#9D1309" stroke="#9D1309" stroke-width="0.55">pLoF</text>
<text transform="translate(1013 2031.4) scale(1 1.06)" font-size="43.1" fill="#000" stroke="#000" stroke-width="0.55">r = 0.6431</text>
<text transform="translate(1319.7 2511.5) scale(1 1.06)" font-size="43.1" text-anchor="middle" fill="#000" stroke="#000" stroke-width="0.55">Expected variants</text>
<text transform="translate(884.2 2184.85) rotate(-90) scale(1 1.06)" font-size="43.1" text-anchor="middle" fill="#000" stroke="#000" stroke-width="0.55">Observed variants</text>
</g>
</svg></body></html>
